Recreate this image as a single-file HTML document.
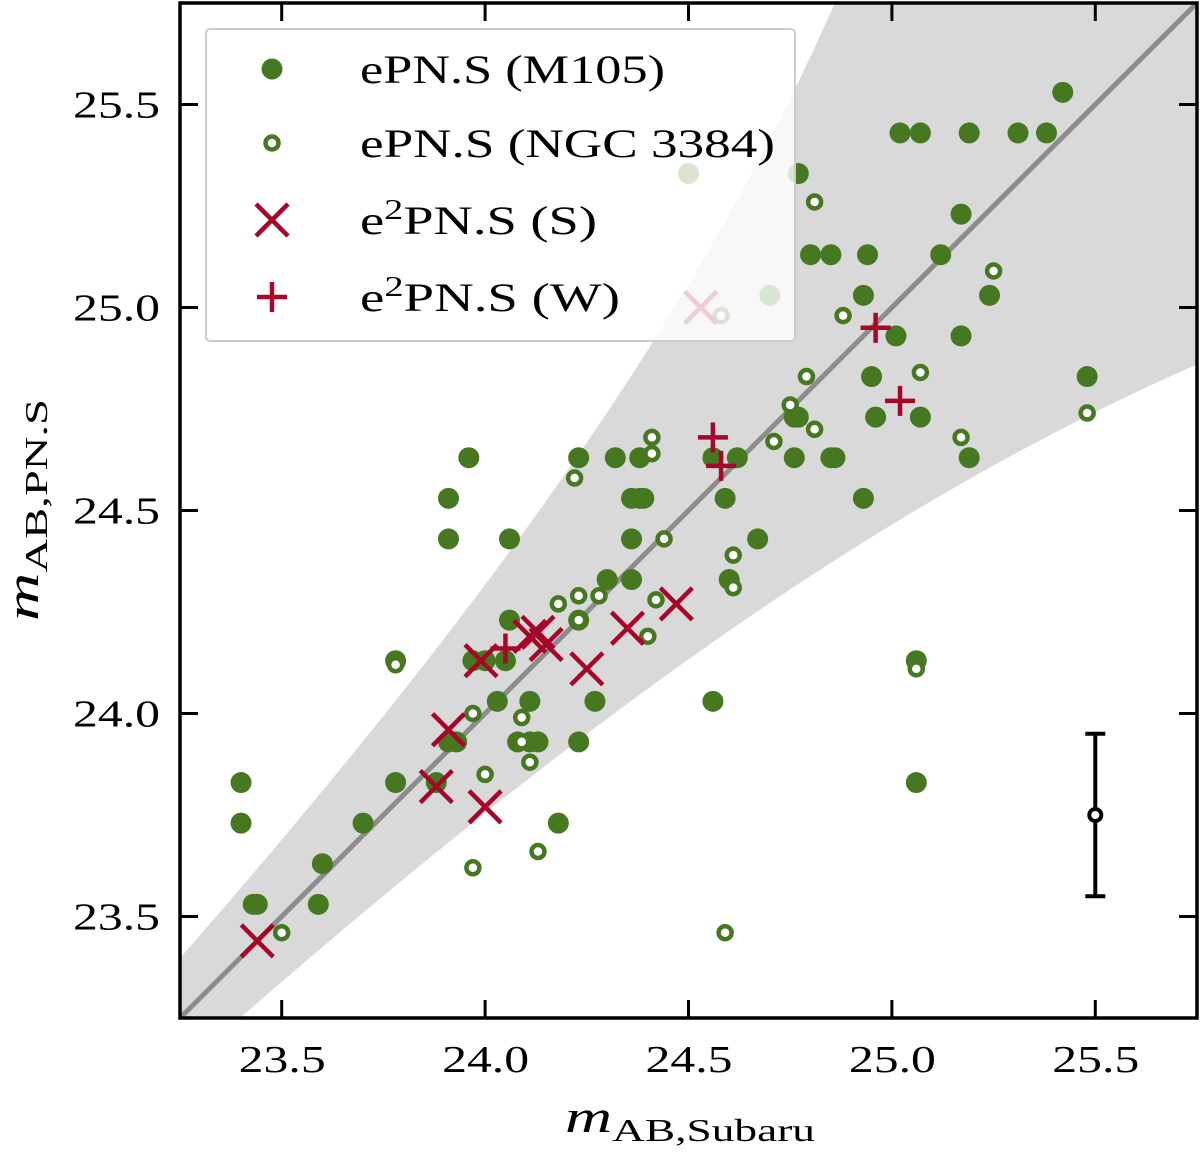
<!DOCTYPE html>
<html><head><meta charset="utf-8"><style>
body{margin:0;background:#fff;}
svg text{font-family:"Liberation Serif",serif;fill:#000;}
</style></head><body>
<svg id="chart" width="1200" height="1154" viewBox="0 0 1200 1154" xmlns="http://www.w3.org/2000/svg">
<defs><clipPath id="clip"><rect x="180" y="3" width="1017" height="1015"/></clipPath></defs>
<g id="plot" clip-path="url(#clip)"></g>
<g id="axes"></g>
<g id="legend"></g>
</svg>
<script>
const filledX=[23.40,23.40,23.43,23.44,23.60,23.59,23.70,23.78,23.78,23.91,23.91,23.96,24.06,24.06,24.03,24.08,24.11,24.11,24.13,24.18,24.23,24.23,24.23,24.27,24.30,24.32,24.36,24.36,24.36,24.38,24.38,24.39,24.56,24.56,24.59,24.62,24.67,24.60,24.77,24.70,24.50,24.80,24.85,24.94,24.93,24.93,24.95,24.96,25.01,25.07,25.17,25.17,25.12,25.24,25.19,24.86,24.85,24.76,24.77,24.76,25.42,25.38,25.31,25.19,25.07,25.02,25.48,25.06,25.06,23.97,24.00,24.05,23.91,23.93,23.88];
const filledY=[23.83,23.73,23.53,23.53,23.63,23.53,23.73,23.83,24.13,24.53,24.43,24.63,24.43,24.23,24.03,23.93,24.03,23.93,23.93,23.73,24.63,24.23,23.93,24.03,24.33,24.63,24.33,24.53,24.43,24.63,24.53,24.53,24.03,24.63,24.53,24.63,24.43,24.33,25.33,25.03,25.33,25.13,25.13,25.13,24.53,25.03,24.83,24.73,24.93,24.73,24.93,25.23,25.13,25.03,24.63,24.63,24.63,24.63,24.73,24.73,25.53,25.43,25.43,25.43,25.43,25.43,24.83,23.83,24.13,24.13,24.13,24.13,23.93,23.93,23.83];
const hollowX=[23.50,23.78,23.97,23.97,24.00,24.09,24.09,24.11,24.13,24.22,24.18,24.23,24.23,24.28,24.41,24.41,24.40,24.42,24.44,24.59,24.61,24.61,24.71,24.75,24.79,24.81,24.81,24.88,25.07,25.17,25.25,25.48,25.06,24.58];
const hollowY=[23.46,24.12,23.62,24.00,23.85,23.99,23.93,23.88,23.66,24.58,24.27,24.29,24.23,24.29,24.68,24.64,24.19,24.28,24.43,23.46,24.39,24.31,24.67,24.76,24.83,24.70,25.26,24.98,24.84,24.68,25.09,24.74,24.11,24.98];
const sX=[23.44,23.88,23.91,24.00,23.99,24.11,24.15,24.25,24.35,24.47,24.53,24.13];
const sY=[23.44,23.82,23.96,23.77,24.13,24.19,24.17,24.11,24.21,24.27,25.00,24.20];
const wX=[24.05,24.56,24.58,24.96,25.02];
const wY=[24.16,24.68,24.61,24.95,24.77];
const ticks=[23.5,24.0,24.5,25.0,25.5];
const tickLabels=["23.5","24.0","24.5","25.0","25.5"];
const errX=25.5, errY=23.75, errLo=0.2;

const X0=180,X1=1197,Y0=1018,Y1=3,XMIN=23.25,XMAX=25.75,YMIN=23.25,YMAX=25.75;
const sx=v=>X0+(v-XMIN)/(XMAX-XMIN)*(X1-X0);
const sy=v=>Y0-(v-YMIN)/(YMAX-YMIN)*(Y0-Y1);
const NS='http://www.w3.org/2000/svg';
function mk(tag,attrs,parent){const e=document.createElementNS(NS,tag);for(const k in attrs)e.setAttribute(k,attrs[k]);parent.appendChild(e);return e;}
const plot=document.getElementById('plot'),axes=document.getElementById('axes'),leg=document.getElementById('legend');
const G='#467821',R='#A60628';

const s=0.1009,f=x=>Math.pow(10,-0.4*(x-23));
let up=[],lo=[];
for(let x=23.2;x<=25.8;x+=0.01){
 const a=f(x)-s; const yu=a>0?23-2.5*Math.log10(a):30; up.push([sx(x),sy(Math.min(yu,27))]);
 lo.push([sx(x),sy(23-2.5*Math.log10(f(x)+s))]);
}
const band=mk('path',{d:'M'+up.map(p=>p.join(',')).join('L')+'L'+lo.reverse().map(p=>p.join(',')).join('L')+'Z',fill:'#d9d9d9'},plot);


const ln=mk('line',{x1:sx(23.2),y1:sy(23.2),x2:sx(25.8),y2:sy(25.8),stroke:'#8c8c8c','stroke-width':5},plot);



function filled(cx,cy,p){return mk('circle',{cx,cy,r:10.5,fill:G},p);}
function hollow(cx,cy,p){return mk('circle',{cx,cy,r:6.5,fill:'#fff',stroke:G,'stroke-width':4.5},p);}
function xm(cx,cy,p){const g=mk('g',{stroke:R,'stroke-width':4.5},p);mk('line',{x1:cx-16,y1:cy-16,x2:cx+16,y2:cy+16},g);mk('line',{x1:cx-16,y1:cy+16,x2:cx+16,y2:cy-16},g);return g;}
function pm(cx,cy,p){const g=mk('g',{stroke:R,'stroke-width':4.5},p);mk('line',{x1:cx-15,y1:cy,x2:cx+15,y2:cy},g);mk('line',{x1:cx,y1:cy-15,x2:cx,y2:cy+15},g);return g;}

filledX.forEach((v,i)=>{const e=filled(sx(v),sy(filledY[i]),plot);

});
hollowX.forEach((v,i)=>{const e=hollow(sx(v),sy(hollowY[i]),plot);

});
sX.forEach((v,i)=>{const e=xm(sx(v),sy(sY[i]),plot);

});
wX.forEach((v,i)=>{const e=pm(sx(v),sy(wY[i]),plot);

});

const eb=mk('g',{stroke:'#000','stroke-width':4,fill:'#fff'},plot);


const ex=sx(errX);
mk('line',{x1:ex,y1:sy(errY-errLo),x2:ex,y2:sy(errY+errLo)},eb);
mk('line',{x1:ex-10,y1:sy(errY-errLo),x2:ex+10,y2:sy(errY-errLo)},eb);
mk('line',{x1:ex-10,y1:sy(errY+errLo),x2:ex+10,y2:sy(errY+errLo)},eb);
mk('circle',{cx:ex,cy:sy(errY),r:6},eb);

const fr=mk('rect',{x:X0,y:Y1,width:X1-X0,height:Y0-Y1,fill:'none',stroke:'#000','stroke-width':3.5},axes);


ticks.forEach((t,i)=>{
 const x=sx(t),y=sy(t);
 mk('line',{x1:x,y1:Y0,x2:x,y2:Y0-18,stroke:'#000','stroke-width':3},axes);
 mk('line',{x1:x,y1:Y1,x2:x,y2:Y1+18,stroke:'#000','stroke-width':3},axes);
 mk('line',{x1:X0,y1:y,x2:X0+18,y2:y,stroke:'#000','stroke-width':3},axes);
 mk('line',{x1:X1,y1:y,x2:X1-18,y2:y,stroke:'#000','stroke-width':3},axes);
 const tx=mk('text',{x:x-43,y:1072,'font-size':38,textLength:87,lengthAdjust:'spacingAndGlyphs'},axes);tx.textContent=tickLabels[i];
 
 
 const ty=mk('text',{x:73,y:y+13,'font-size':38,textLength:87,lengthAdjust:'spacingAndGlyphs'},axes);ty.textContent=tickLabels[i];
 
 
});
const xl=mk('text',{x:565,y:1132,'font-size':46,textLength:250,lengthAdjust:'spacingAndGlyphs'},axes);
xl.innerHTML='<tspan font-style="italic">m</tspan><tspan font-size="32" dy="9">AB,Subaru</tspan>';


const yl=mk('text',{x:0,y:0,'font-size':46,textLength:222,lengthAdjust:'spacingAndGlyphs',transform:'translate(38,621) rotate(-90)'},axes);
yl.innerHTML='<tspan font-style="italic">m</tspan><tspan font-size="32" dy="9">AB,PN.S</tspan>';



const lb=mk('rect',{x:206,y:29,width:589,height:312,rx:4,fill:'rgba(255,255,255,0.8)',stroke:'#cccccc','stroke-width':2},leg);


const rows=[[filled,'ePN.S (M105)',69,305],[hollow,'ePN.S (NGC 3384)',143,415],[xm,'e<tspan font-size="28" dy="-15">2</tspan><tspan dy="15">PN.S (S)</tspan>',220,237],[pm,'e<tspan font-size="28" dy="-15">2</tspan><tspan dy="15">PN.S (W)</tspan>',297,260]];
rows.forEach(r=>{
 const g=mk('g',{},leg);
 
 
 r[0](272,r[2],g);
 const t=mk('text',{x:360,y:r[2]+14,'font-size':40,textLength:r[3],lengthAdjust:'spacingAndGlyphs'},g);t.innerHTML=r[1];
});
</script>
</body></html>
